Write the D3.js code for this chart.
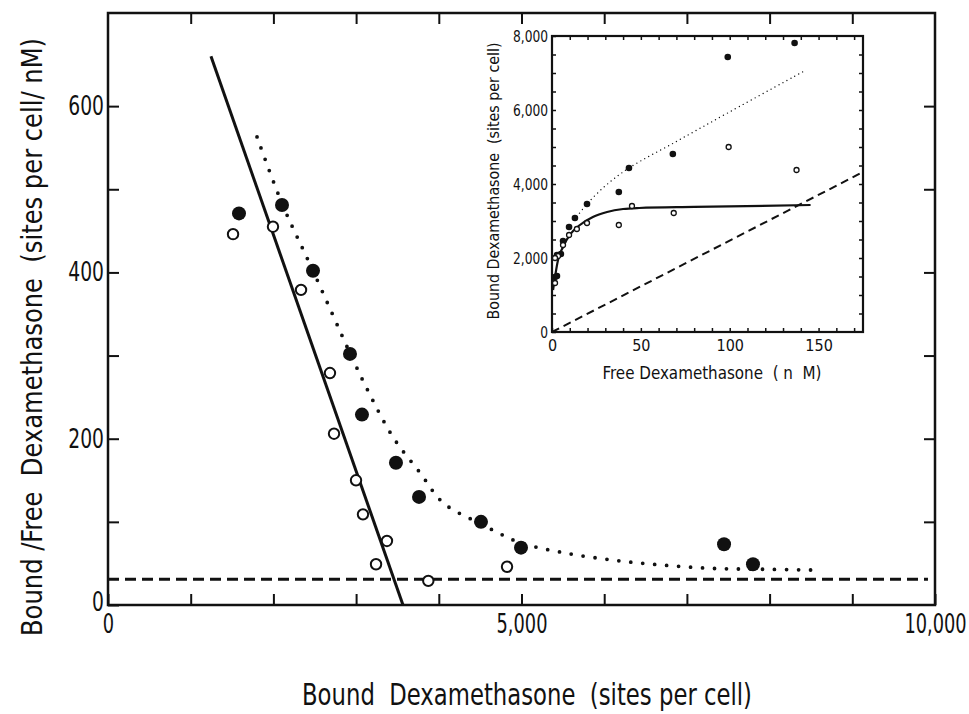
<script src="https://d3js.org/d3.v7.min.js"></script>

<style>
  body { margin: 0; background: #fff; }
  text { font-family: "DejaVu Sans Condensed", "Liberation Sans Narrow", sans-serif; fill: #111; white-space: pre; }
</style>

<body>
  <div id="vis"></div>
</body>

<script>
  // Scatchard plot: bound/free vs bound (main panel)
  const filledPts = [[1584, 471], [2104, 481], [2479, 402], [2926, 302], [3071, 229], [3482, 171],
                     [3761, 130], [4510, 100], [4994, 69], [7449, 73], [7799, 49]]
  const openPts = [[1512, 446], [1995, 455], [2334, 379], [2684, 279], [2733, 206], [2999, 150],
                   [3083, 109], [3373, 77], [3241, 49], [3873, 29], [4825, 46]]
  const solidFit = [[1245, 660], [3567, 0]]
  const dottedFit = [[1802, 563], [2104, 483], [2479, 402], [2926, 303], [3132, 260], [3446, 202],
                     [3773, 159], [4051, 123], [4414, 102], [4655, 90], [4982, 75], [5502, 63],
                     [6106, 54], [6711, 48], [7316, 44], [7920, 43], [8573, 42]]
  const dashedFit = [[0, 31], [9915, 31]]

  // inset: bound vs free
  const insetFilled = [[136.5, 7810], [98.9, 7432], [68, 4811], [43.3, 4432], [37.6, 3784], [19.7, 3459],
                       [12.9, 3081], [9.6, 2838], [6.2, 2459], [5, 2108], [2.8, 2081], [2.8, 1514], [1.7, 1486]]
  const insetOpen = [[99.4, 5000], [137.6, 4378], [45, 3405], [68.5, 3216], [37.6, 2892], [19.7, 2946],
                     [14, 2784], [9.6, 2622], [6.2, 2351], [3.4, 2054], [1.7, 2000], [1.7, 1324]]
  const insetSolid = [[0.6, 1135], [3.4, 1946], [6.2, 2297], [10, 2622], [15.7, 2892], [23, 3108],
                      [31, 3243], [40, 3324], [49, 3351], [80, 3380], [145.5, 3432]]
  const insetDotted = [[14, 3120], [19.7, 3460], [30, 3950], [43.3, 4432], [70, 5150], [100, 5950], [141, 7030]]
  const insetDashed = [[0, 0], [175, 4324]]

  const mainXTicks = d3.range(0, 10001, 1000)
  const mainXLabels = [0, 5000, 10000]
  const mainYTicks = d3.range(0, 601, 100)
  const mainYLabels = [0, 200, 400, 600]
  const insetXTicks = d3.range(0, 171, 10)
  const insetXLabels = [0, 50, 100, 150]
  const insetYTicks = d3.range(0, 8001, 500)
  const insetYLabels = [0, 2000, 4000, 6000, 8000]

  const svg = d3.select('#vis').append('svg')
    .attr('width', 969)
    .attr('height', 714)

  // squeeze text horizontally, the original lettering is tall and narrow
  function condense(sel, k) {
    sel.each(function () {
      const w = this.getComputedTextLength()
      if (w > 0) d3.select(this).attr('textLength', w * k).attr('lengthAdjust', 'spacingAndGlyphs')
    })
  }

  // ---- main panel ----
  const x = d3.scaleLinear().domain([0, 10000]).range([108, 935])
  const y = d3.scaleLinear().domain([0, 712]).range([605, 13])

  const fmtMain = d => mainXLabels.includes(d) ? d3.format(',')(d) : ''
  const fmtMainY = d => mainYLabels.includes(d) ? d : ''

  function styleAxis(g, size, w) {
    g.select('.domain').remove()
    g.selectAll('line').attr('stroke', '#111').attr('stroke-width', w)
    g.selectAll('text').style('font-size', size + 'px').attr('fill', '#111')
  }

  const xAxisG = svg.append('g').attr('transform', 'translate(0,605)')
    .call(d3.axisBottom(x).tickValues(mainXTicks).tickSize(-11).tickPadding(10).tickFormat(fmtMain))
    .call(g => styleAxis(g, 26, 2))
  svg.append('g').attr('transform', 'translate(0,13)')
    .call(d3.axisTop(x).tickValues(mainXTicks.slice(1, -1)).tickSize(-11).tickFormat(''))
    .call(g => styleAxis(g, 26, 2))
  const yAxisG = svg.append('g').attr('transform', 'translate(108,0)')
    .call(d3.axisLeft(y).tickValues(mainYTicks).tickSize(-11).tickPadding(4).tickFormat(fmtMainY))
    .call(g => styleAxis(g, 26, 2))
  svg.append('g').attr('transform', 'translate(935,0)')
    .call(d3.axisRight(y).tickValues(mainYTicks.slice(1)).tickSize(-11).tickFormat(''))
    .call(g => styleAxis(g, 26, 2))
  condense(xAxisG.selectAll('text'), 0.76)
  condense(yAxisG.selectAll('text'), 0.8)
  yAxisG.selectAll('text').filter(d => d === 0).attr('dy', '0.22em')

  svg.append('rect')
    .attr('x', 108).attr('y', 13)
    .attr('width', 935 - 108).attr('height', 605 - 13)
    .attr('fill', 'none').attr('stroke', '#111').attr('stroke-width', 2.5)

  const line = d3.line().x(d => x(d[0])).y(d => y(d[1]))

  svg.append('path').attr('d', line(dashedFit))
    .attr('fill', 'none').attr('stroke', '#111').attr('stroke-width', 3)
    .attr('stroke-dasharray', '11 6')
  svg.append('path').attr('d', line(solidFit))
    .attr('fill', 'none').attr('stroke', '#111').attr('stroke-width', 3)
  svg.append('path').attr('d', line.curve(d3.curveCatmullRom)(dottedFit))
    .attr('fill', 'none').attr('stroke', '#111').attr('stroke-width', 3.8)
    .attr('stroke-linecap', 'round').attr('stroke-dasharray', '0 12')
  line.curve(d3.curveLinear)

  svg.selectAll('.fpt').data(filledPts).enter().append('circle')
    .attr('cx', d => x(d[0])).attr('cy', d => y(d[1])).attr('r', 7)
    .attr('fill', '#111')
  svg.selectAll('.opt').data(openPts).enter().append('circle')
    .attr('cx', d => x(d[0])).attr('cy', d => y(d[1])).attr('r', 5.2)
    .attr('fill', '#fff').attr('stroke', '#111').attr('stroke-width', 2)

  svg.append('text')
    .attr('x', 527).attr('y', 705)
    .attr('text-anchor', 'middle')
    .style('font-size', '30px')
    .text('Bound  Dexamethasone  (sites per cell)')
    .attr('textLength', 450).attr('lengthAdjust', 'spacingAndGlyphs')
  svg.append('text')
    .attr('transform', 'translate(42,337) rotate(-90)')
    .attr('text-anchor', 'middle')
    .style('font-size', '28px')
    .text('Bound /Free  Dexamethasone  (sites per cell/ nM)')
    .attr('textLength', 598).attr('lengthAdjust', 'spacingAndGlyphs')

  // ---- inset ----
  const ix = d3.scaleLinear().domain([0, 175]).range([552, 863])
  const iy = d3.scaleLinear().domain([0, 8000]).range([332, 36])

  svg.append('rect')
    .attr('x', 552).attr('y', 36).attr('width', 863 - 552).attr('height', 332 - 36)
    .attr('fill', '#fff')

  const fmtInsetX = d => insetXLabels.includes(d) ? d : ''
  const fmtInsetY = d => insetYLabels.includes(d) ? d3.format(',')(d) : ''

  svg.append('g').attr('transform', 'translate(0,332)')
    .call(d3.axisBottom(ix).tickValues(insetXTicks).tickSize(-4).tickPadding(8).tickFormat(fmtInsetX))
    .call(g => styleAxis(g, 16, 1.5))
  svg.append('g').attr('transform', 'translate(0,36)')
    .call(d3.axisTop(ix).tickValues(insetXTicks.slice(1)).tickSize(-4).tickFormat(''))
    .call(g => styleAxis(g, 16, 1.5))
  svg.append('g').attr('transform', 'translate(552,0)')
    .call(d3.axisLeft(iy).tickValues(insetYTicks).tickSize(-4).tickPadding(4).tickFormat(fmtInsetY))
    .call(g => styleAxis(g, 16, 1.5))
    .call(g => condense(g.selectAll('text'), 0.85))
  svg.append('g').attr('transform', 'translate(863,0)')
    .call(d3.axisRight(iy).tickValues(insetYTicks.slice(1, -1)).tickSize(-4).tickFormat(''))
    .call(g => styleAxis(g, 16, 1.5))

  svg.append('rect')
    .attr('x', 552).attr('y', 36).attr('width', 863 - 552).attr('height', 332 - 36)
    .attr('fill', 'none').attr('stroke', '#111').attr('stroke-width', 2.2)

  const iline = d3.line().x(d => ix(d[0])).y(d => iy(d[1]))

  svg.append('path').attr('d', iline(insetDashed))
    .attr('fill', 'none').attr('stroke', '#111').attr('stroke-width', 2)
    .attr('stroke-dasharray', '8 5')
  svg.append('path').attr('d', iline.curve(d3.curveCatmullRom)(insetDotted))
    .attr('fill', 'none').attr('stroke', '#111').attr('stroke-width', 1.4)
    .attr('stroke-linecap', 'round').attr('stroke-dasharray', '0 4.5')
  svg.append('path').attr('d', iline.curve(d3.curveMonotoneX)(insetSolid))
    .attr('fill', 'none').attr('stroke', '#111').attr('stroke-width', 2.2)

  svg.selectAll('.ifpt').data(insetFilled).enter().append('circle')
    .attr('cx', d => ix(d[0])).attr('cy', d => iy(d[1])).attr('r', 3.3)
    .attr('fill', '#111')
  svg.selectAll('.iopt').data(insetOpen).enter().append('circle')
    .attr('cx', d => ix(d[0])).attr('cy', d => iy(d[1])).attr('r', 2.5)
    .attr('fill', '#fff').attr('stroke', '#111').attr('stroke-width', 1.3)

  svg.append('text')
    .attr('x', 712).attr('y', 379)
    .attr('text-anchor', 'middle')
    .style('font-size', '17px')
    .text('Free Dexamethasone  ( n  M)')
    .attr('textLength', 219).attr('lengthAdjust', 'spacingAndGlyphs')
  svg.append('text')
    .attr('transform', 'translate(499,181) rotate(-90)')
    .attr('text-anchor', 'middle')
    .style('font-size', '16px')
    .text('Bound Dexamethasone  (sites per cell)')
    .attr('textLength', 277).attr('lengthAdjust', 'spacingAndGlyphs')
</script>
